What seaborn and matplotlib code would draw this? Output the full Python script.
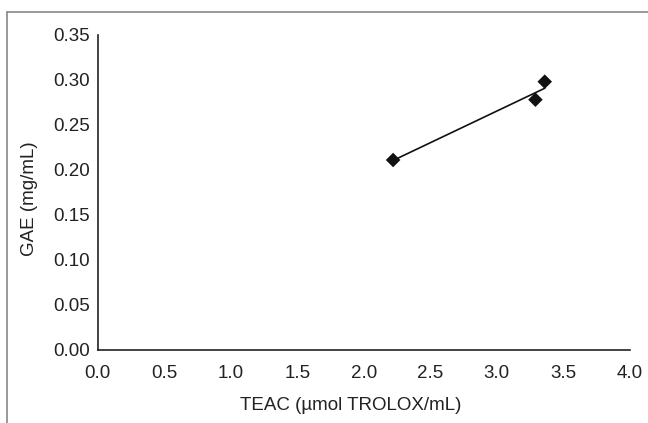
import numpy as np
import pandas as pd
import matplotlib
matplotlib.use("Agg")
import matplotlib.pyplot as plt
from matplotlib.lines import Line2D
import seaborn as sns

teac = [2.22, 3.29, 3.36]
gae = [0.211, 0.278, 0.298]
x_ticks = [0.0, 0.5, 1.0, 1.5, 2.0, 2.5, 3.0, 3.5, 4.0]
y_ticks = [0.00, 0.05, 0.10, 0.15, 0.20, 0.25, 0.30, 0.35]

df = pd.DataFrame({"TEAC": teac, "GAE": gae})

sns.set_style("white")
plt.rcParams['font.family'] = ['Liberation Sans', 'DejaVu Sans']

fig = plt.figure(figsize=(6.48, 4.23), dpi=100)
ax = fig.add_axes([0.151, 0.1726, 0.821, 0.745])

sns.regplot(data=df, x="TEAC", y="GAE", ax=ax, ci=None, color="#111111",
            marker="D", scatter_kws={"s": 55, "edgecolor": "none", "alpha": 1},
            line_kws={"lw": 1.2})

ax.set_xlim(0, 4.0)
ax.set_ylim(0, 0.35)
ax.set_xticks(x_ticks)
ax.set_xticklabels([f"{v:.1f}" for v in x_ticks])
ax.set_yticks(y_ticks)
ax.set_yticklabels([f"{v:.2f}" for v in y_ticks])
ax.tick_params(length=0, labelsize=13.5, colors="#222222")
ax.tick_params(axis='x', pad=11)
ax.tick_params(axis='y', pad=6)
ax.set_xlabel("TEAC (µmol TROLOX/mL)", fontsize=13.5, color="#222222")
ax.set_ylabel("GAE (mg/mL)", fontsize=13.5, color="#222222")
ax.xaxis.label.set_va('center')
ax.yaxis.label.set_va('center')
ax.xaxis.set_label_coords(0.476, -0.175)
ax.yaxis.set_label_coords(-0.128, 0.479)

for s in ['right', 'top']:
    ax.spines[s].set_visible(False)
for s in ['left', 'bottom']:
    ax.spines[s].set_color("#222222")
    ax.spines[s].set_linewidth(1.2)

# outer frame (left and top only)
fig.add_artist(Line2D([7/648, 7/648], [0, 1 - 12/423], transform=fig.transFigure,
                      color="#888888", lw=1.2))
fig.add_artist(Line2D([7/648, 1], [1 - 12/423, 1 - 12/423], transform=fig.transFigure,
                      color="#888888", lw=1.2))

plt.savefig("out.png", dpi=100)
